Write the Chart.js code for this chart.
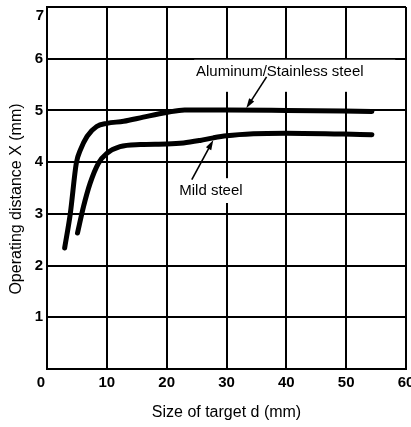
<!DOCTYPE html>
<html>
<head>
<meta charset="utf-8">
<script src="https://cdn.jsdelivr.net/npm/chart.js@4/dist/chart.umd.min.js"></script>
<style>
  html, body { margin: 0; padding: 0; background: #fff; }
  #wrap { width: 411px; height: 427px; }
</style>
</head>
<body>
<div id="wrap"><canvas id="distanceChart"></canvas></div>
<script>
// values
const aluminumX = [2.95, 3.9, 4.9, 5.6, 6.7, 8.3, 10, 12.8, 16.1, 20, 23, 30, 40, 54.3];
const aluminumY = [2.34, 3.01, 3.98, 4.24, 4.5, 4.69, 4.75, 4.79, 4.87, 4.96, 5.01, 5.01, 5.0, 4.98];

const mildX = [5.1, 6.1, 7.2, 8.6, 10, 12.2, 15.6, 20, 22.8, 25.6, 27.8, 30, 34.5, 40, 54.3];
const mildY = [2.63, 3.14, 3.59, 3.98, 4.17, 4.3, 4.34, 4.35, 4.37, 4.42, 4.47, 4.51, 4.55, 4.56, 4.53];

const xTicks = [0, 10, 20, 30, 40, 50, 60];
const yTicks = [0, 1, 2, 3, 4, 5, 6, 7];

const toPoints = (xs, ys) => xs.map((x, i) => ({ x: x, y: ys[i] }));

const tickFont = { family: "'Liberation Sans Narrow', 'Arial Narrow', Arial, sans-serif", size: 15, weight: 'bold' };
const tickFontCss = "bold 15px 'Liberation Sans Narrow', 'Arial Narrow', Arial, sans-serif";
const textFont = "15px 'Liberation Sans', Arial, sans-serif";
const titleFont = "16px 'Liberation Sans', Arial, sans-serif";

// callouts: label text, white box behind, arrow to the curve
const callouts = [
  { text: 'Aluminum/Stainless steel', tx: 24.9, ty: 5.75, box: [24.6, 58.2, 5.98, 5.36], arrow: [36.7, 5.65, 33.3, 5.04] },
  { text: 'Mild steel', tx: 22.1, ty: 3.45, box: [21.8, 33.4, 3.69, 3.21], arrow: [24.2, 3.66, 27.8, 4.43] },
];

const calloutPlugin = {
  id: 'callouts',
  beforeDatasetsDraw(chart) {
    const { ctx, scales: { x, y } } = chart;
    ctx.save();
    ctx.fillStyle = '#fff';
    callouts.forEach(c => {
      const l = x.getPixelForValue(c.box[0]), r = x.getPixelForValue(c.box[1]);
      const t = y.getPixelForValue(c.box[2]), b = y.getPixelForValue(c.box[3]);
      ctx.fillRect(l, t, r - l, b - t);
    });
    ctx.restore();
  },
  afterDatasetsDraw(chart) {
    const { ctx, scales: { x, y } } = chart;
    ctx.save();
    ctx.fillStyle = '#000';
    ctx.strokeStyle = '#000';
    ctx.font = textFont;
    ctx.textBaseline = 'middle';
    ctx.textAlign = 'left';
    callouts.forEach(c => {
      ctx.fillText(c.text, x.getPixelForValue(c.tx), y.getPixelForValue(c.ty));
      const x1 = x.getPixelForValue(c.arrow[0]), y1 = y.getPixelForValue(c.arrow[1]);
      const x2 = x.getPixelForValue(c.arrow[2]), y2 = y.getPixelForValue(c.arrow[3]);
      const ang = Math.atan2(y2 - y1, x2 - x1);
      ctx.lineWidth = 1.6;
      ctx.beginPath();
      ctx.moveTo(x1, y1);
      ctx.lineTo(x2 - 6 * Math.cos(ang), y2 - 6 * Math.sin(ang));
      ctx.stroke();
      ctx.beginPath();
      ctx.moveTo(x2, y2);
      ctx.lineTo(x2 - 10 * Math.cos(ang) + 3 * Math.sin(ang), y2 - 10 * Math.sin(ang) - 3 * Math.cos(ang));
      ctx.lineTo(x2 - 10 * Math.cos(ang) - 3 * Math.sin(ang), y2 - 10 * Math.sin(ang) + 3 * Math.cos(ang));
      ctx.closePath();
      ctx.fill();
    });

    // corner tick labels sit off their grid lines in the original
    const area = chart.chartArea;
    ctx.font = tickFontCss;
    ctx.textAlign = 'right';
    ctx.textBaseline = 'top';
    ctx.fillText(String(yTicks[yTicks.length - 1]), area.left - 3, area.top + 1);
    ctx.textAlign = 'center';
    ctx.fillText(String(xTicks[0]), area.left - 6, area.bottom + 6);

    // y axis title, placed a little below the axis middle as in the original
    ctx.font = titleFont;
    ctx.translate(17, 199);
    ctx.rotate(-Math.PI / 2);
    ctx.textBaseline = 'middle';
    ctx.fillText('Operating distance X (mm)', 0, 0);
    ctx.restore();
  }
};

new Chart(document.getElementById('distanceChart'), {
  type: 'line',
  data: {
    datasets: [
      {
        label: 'Aluminum/Stainless steel',
        data: toPoints(aluminumX, aluminumY),
        borderColor: '#000',
        borderWidth: 5,
        borderCapStyle: 'round',
        pointRadius: 0,
        cubicInterpolationMode: 'monotone',
      },
      {
        label: 'Mild steel',
        data: toPoints(mildX, mildY),
        borderColor: '#000',
        borderWidth: 5,
        borderCapStyle: 'round',
        pointRadius: 0,
        cubicInterpolationMode: 'monotone',
      },
    ],
  },
  options: {
    responsive: true,
    maintainAspectRatio: false,
    animation: false,
    layout: { padding: { top: 7, right: 5, left: 0, bottom: 0 } },
    plugins: { legend: { display: false }, tooltip: { enabled: false } },
    scales: {
      x: {
        type: 'linear',
        min: 0,
        max: 60,
        afterBuildTicks: (s) => { s.ticks = xTicks.map(v => ({ value: v })); },
        afterFit: (s) => { s.height = 58; s.paddingLeft = 0; s.paddingRight = 0; },
        grid: { color: '#000', lineWidth: 2, drawTicks: false },
        border: { color: '#000', width: 2 },
        ticks: { color: '#000', font: tickFont, padding: 5, maxRotation: 0, callback: (v) => (v === 0 ? '' : v) },
        title: {
          display: true,
          text: 'Size of target d (mm)',
          color: '#000',
          font: { family: "'Liberation Sans', Arial, sans-serif", size: 16 },
          padding: { top: 0, bottom: 5 },
        },
      },
      y: {
        min: 0,
        max: 7,
        afterBuildTicks: (s) => { s.ticks = yTicks.map(v => ({ value: v })); },
        afterFit: (s) => { s.width = 47; s.paddingTop = 0; s.paddingBottom = 0; },
        grid: { color: '#000', lineWidth: 2, drawTicks: false },
        border: { color: '#000', width: 2 },
        ticks: { color: '#000', font: tickFont, padding: 4, callback: (v) => (v === 0 || v === 7 ? '' : v) },
      },
    },
  },
  plugins: [calloutPlugin],
});
</script>
</body>
</html>
